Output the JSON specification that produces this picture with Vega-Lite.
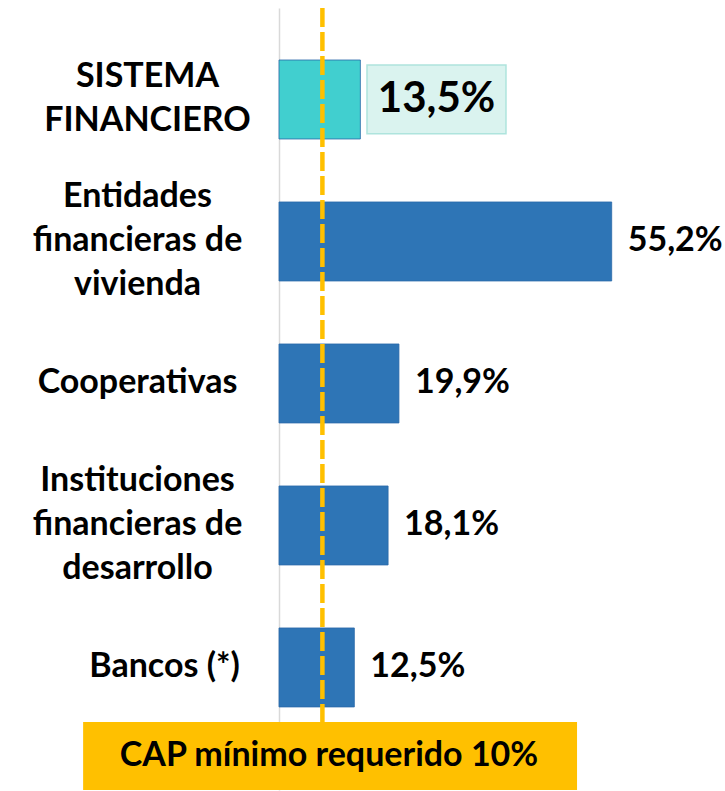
{
  "$schema": "https://vega.github.io/schema/vega-lite/v6.json",
  "width": 446,
  "height": 782,
  "autosize": "none",
  "padding": {"left": 279, "top": 8, "right": 0, "bottom": 1},
  "background": "white",
  "config": {"view": {"stroke": null}, "font": "Lato"},
  "datasets": {
    "cap": [
      {"categoria": "SISTEMA|FINANCIERO", "tipo": "sistema", "valor": 13.5, "etiqueta": "13,5%"},
      {"categoria": "Entidades|financieras de|vivienda", "tipo": "entidad", "valor": 55.2, "etiqueta": "55,2%"},
      {"categoria": "Cooperativas", "tipo": "entidad", "valor": 19.9, "etiqueta": "19,9%"},
      {"categoria": "Instituciones|financieras de|desarrollo", "tipo": "entidad", "valor": 18.1, "etiqueta": "18,1%"},
      {"categoria": "Bancos (*)", "tipo": "entidad", "valor": 12.5, "etiqueta": "12,5%"}
    ],
    "referencia": [{"umbral": 7.2}],
    "nota": [{"nota": "CAP mínimo requerido 10%"}]
  },
  "layer": [
    {
      "data": {"name": "cap"},
      "layer": [
        {
          "mark": {"type": "bar", "stroke": "#2A68A8", "strokeWidth": 0.8},
          "encoding": {
            "y": {
              "field": "categoria", "type": "nominal", "sort": null,
              "scale": {"paddingInner": 0.4437, "paddingOuter": 0.4755, "align": 0.385},
              "axis": {
                "title": null, "ticks": false, "tickSize": 0,
                "labelPadding": {"expr": "datum.label === 'Bancos (*)' ? 115 : (datum.label === 'SISTEMA|FINANCIERO' ? 132 : 142)"},
                "labelAlign": "center", "labelBaseline": "middle", "labelFont": "Lato",
                "labelFontWeight": "bold", "labelFontSize": 34, "labelColor": "black",
                "labelLineHeight": 44, "labelLimit": 0, "labelOverlap": false,
                "labelExpr": "split(datum.label, '|')",
                "labelOffset": {"expr": "-(length(split(datum.label, '|')) - 1) * 22"},
                "domainColor": "#D9D9D9", "domainWidth": 1.5, "grid": false
              }
            },
            "x": {"field": "valor", "type": "quantitative", "scale": {"domain": [0, 74], "nice": false, "zero": true}, "axis": null},
            "color": {"field": "tipo", "type": "nominal", "scale": {"domain": ["sistema", "entidad"], "range": ["#41CFCF", "#2E75B6"]}, "legend": null}
          }
        },
        {
          "transform": [{"filter": "datum.tipo === 'sistema'"}],
          "mark": {"type": "bar", "height": {"band": 0.87}, "fill": "#DAF3EF", "stroke": "#AEE4DD", "strokeWidth": 1.5},
          "encoding": {
            "y": {"field": "categoria", "type": "nominal", "sort": null},
            "x": {"datum": 14.6, "type": "quantitative"},
            "x2": {"datum": 37.66}
          }
        },
        {
          "transform": [{"filter": "datum.tipo === 'sistema'"}],
          "mark": {"type": "text", "align": "center", "baseline": "middle", "font": "Lato", "fontWeight": "bold", "fontSize": 42, "color": "black"},
          "encoding": {
            "y": {"field": "categoria", "type": "nominal", "sort": null},
            "x": {"datum": 26.13, "type": "quantitative"},
            "text": {"field": "etiqueta"}
          }
        },
        {
          "transform": [{"filter": "datum.tipo !== 'sistema'"}],
          "mark": {"type": "text", "align": "left", "baseline": "middle", "dx": 16, "font": "Lato", "fontWeight": "bold", "fontSize": 34, "color": "black"},
          "encoding": {
            "y": {"field": "categoria", "type": "nominal", "sort": null},
            "x": {"field": "valor", "type": "quantitative"},
            "text": {"field": "etiqueta"}
          }
        },
        {
          "data": {"name": "referencia"},
          "mark": {"type": "rule", "color": "#FFC000", "strokeWidth": 4.5, "strokeDash": [19, 5]},
          "encoding": {"x": {"field": "umbral", "type": "quantitative"}}
        }
      ]
    },
    {
      "data": {"name": "nota"},
      "layer": [
        {
          "mark": {"type": "bar", "color": "#FFC000"},
          "encoding": {
            "y": {"field": "nota", "type": "nominal", "scale": {"paddingInner": 0.8095, "paddingOuter": 1, "align": 1}, "axis": null},
            "x": {"datum": -32.5, "type": "quantitative"},
            "x2": {"datum": 49.45}
          }
        },
        {
          "mark": {"type": "text", "align": "center", "baseline": "middle", "font": "Lato", "fontWeight": "bold", "fontSize": 34, "color": "black"},
          "encoding": {
            "y": {"field": "nota", "type": "nominal", "axis": null},
            "x": {"datum": 8.3, "type": "quantitative"},
            "text": {"field": "nota"}
          }
        }
      ]
    }
  ],
  "resolve": {"scale": {"y": "independent"}}
}
